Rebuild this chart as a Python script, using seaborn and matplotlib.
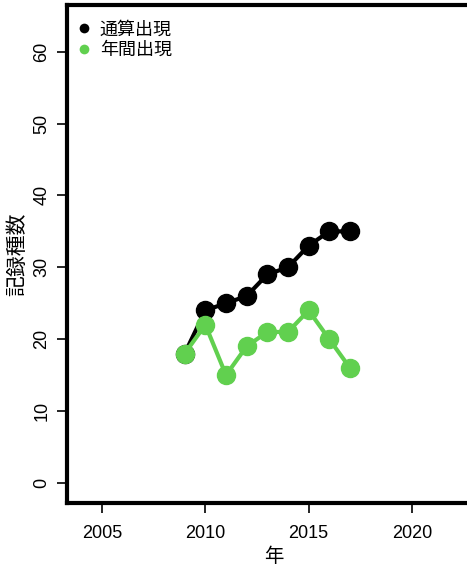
import matplotlib
matplotlib.use("Agg")
import matplotlib.pyplot as plt
from matplotlib.lines import Line2D
import seaborn as sns

years = [2009, 2010, 2011, 2012, 2013, 2014, 2015, 2016, 2017]
cumulative = [18, 24, 25, 26, 29, 30, 33, 35, 35]
annual = [18, 22, 15, 19, 21, 21, 24, 20, 16]
x_ticks = [2005, 2010, 2015, 2020]
y_ticks = [0, 10, 20, 30, 40, 50, 60]

sns.set_style("ticks")
plt.rcParams['font.family'] = ['Liberation Sans', 'Noto Sans CJK JP']

green = '#61D04F'

fig = plt.figure(figsize=(4.67, 5.67), dpi=100)
W, H = 467, 567
ax = fig.add_axes([67 / W, (H - 503) / H, (480 - 67) / W, (503 - 5) / H])

sns.lineplot(x=years, y=cumulative, ax=ax, color='black', linewidth=3,
             marker='o', markersize=13, markeredgewidth=1, markeredgecolor='black')
sns.lineplot(x=years, y=annual, ax=ax, color=green, linewidth=3,
             marker='o', markersize=13, markeredgewidth=1, markeredgecolor=green)

ax.set_xlim(2003.3, 2023.3)
ax.set_ylim(-2.8, 66.5)
ax.set_xticks(x_ticks)
ax.set_yticks(y_ticks)
ax.set_xticklabels([str(t) for t in x_ticks], fontsize=13)
ax.set_yticklabels([str(t) for t in y_ticks], fontsize=13, rotation=90, va='center')
ax.tick_params(axis='x', direction='out', length=7, width=1.2, color='black',
               labelcolor='black', pad=9)
ax.tick_params(axis='y', direction='out', length=7, width=1.2, color='black',
               labelcolor='black', pad=5)

for side in ['left', 'right', 'top', 'bottom']:
    ax.spines[side].set_visible(True)
    ax.spines[side].set_linewidth(3)
    ax.spines[side].set_color('black')

ax.set_xlabel('年', fontsize=14, labelpad=3, color='black',
              family=['Noto Sans CJK JP', 'Liberation Sans'])
ax.set_ylabel('記録種数', fontsize=15, labelpad=4, color='black',
              family=['Noto Sans CJK JP', 'Liberation Sans'])

handles = [
    Line2D([], [], linestyle='none', marker='o', markersize=7, color='black', markeredgewidth=0),
    Line2D([], [], linestyle='none', marker='o', markersize=7, color=green, markeredgewidth=0),
]
leg = ax.legend(handles, ['通算出現', '年間出現'], loc='upper left', frameon=False,
                bbox_to_anchor=(-0.019, 1.0),
                handletextpad=0.4, handlelength=1.0, borderaxespad=0.55,
                borderpad=0.3, labelspacing=0.15,
                prop={'family': ['Noto Sans CJK JP'], 'size': 13})
for t in leg.get_texts():
    t.set_color('black')

fig.savefig('out.png', dpi=100)
